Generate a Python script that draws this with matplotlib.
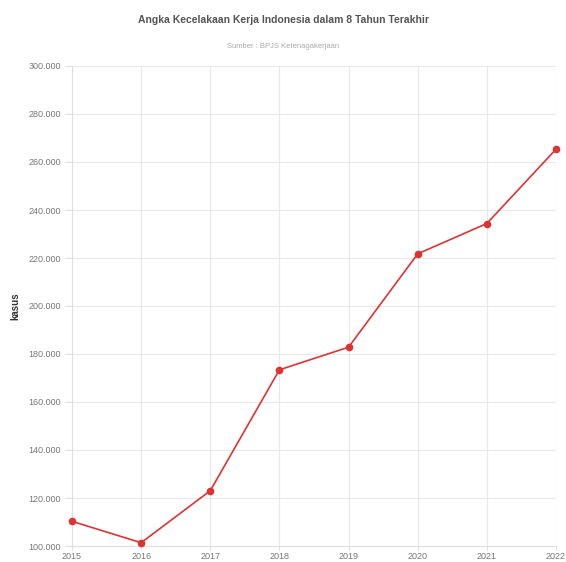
import matplotlib
matplotlib.use("Agg")
import matplotlib.pyplot as plt

years = [2015, 2016, 2017, 2018, 2019, 2020, 2021, 2022]
cases = [110285, 101368, 123041, 173415, 182835, 221740, 234370, 265334]
yticks = [100000, 120000, 140000, 160000, 180000, 200000, 220000, 240000, 260000, 280000, 300000]
ytick_labels = [f"{v:,}".replace(",", ".") for v in yticks]

plt.rcParams['font.family'] = ['Liberation Sans', 'DejaVu Sans']

fig = plt.figure(figsize=(5.66, 5.62), dpi=100)
ax = fig.add_axes([72/566, 1-546/562, (556-72)/566, (546-66)/562])

ax.plot(years, cases, color='#dd3333', lw=1.2, marker='o', ms=4.5, zorder=3, clip_on=False)

ax.set_xlim(2015, 2022)
ax.set_ylim(100000, 300000)
ax.set_yticks(yticks)
ax.set_yticklabels(ytick_labels)
ax.set_xticks(years)
ax.set_xticklabels([str(y) for y in years])

ax.grid(True, color='#e8e8e8', lw=0.8)
for s in ['top', 'right']:
    ax.spines[s].set_visible(False)
for s in ['left', 'bottom']:
    ax.spines[s].set_color('#e0e0e0')
    ax.spines[s].set_linewidth(0.8)
ax.tick_params(axis='both', colors='#e0e0e0', labelcolor='#777777', labelsize=6.5, length=5, width=0.8, pad=3)
ax.tick_params(axis='x', length=3, pad=1)

ax.set_ylabel('kasus', fontsize=7, fontweight='bold', color='#333333', labelpad=6)

fig.text(0.5, 1-20/562, 'Angka Kecelakaan Kerja Indonesia dalam 8 Tahun Terakhir', ha='center', va='center',
         fontsize=7.5, fontweight='bold', color='#555555')
fig.text(0.5, 1-47/562, 'Sumber : BPJS Ketenagakerjaan', ha='center', va='center', fontsize=5.5, color='#aaaaaa')

fig.savefig('out.png', dpi=100, facecolor='white')
